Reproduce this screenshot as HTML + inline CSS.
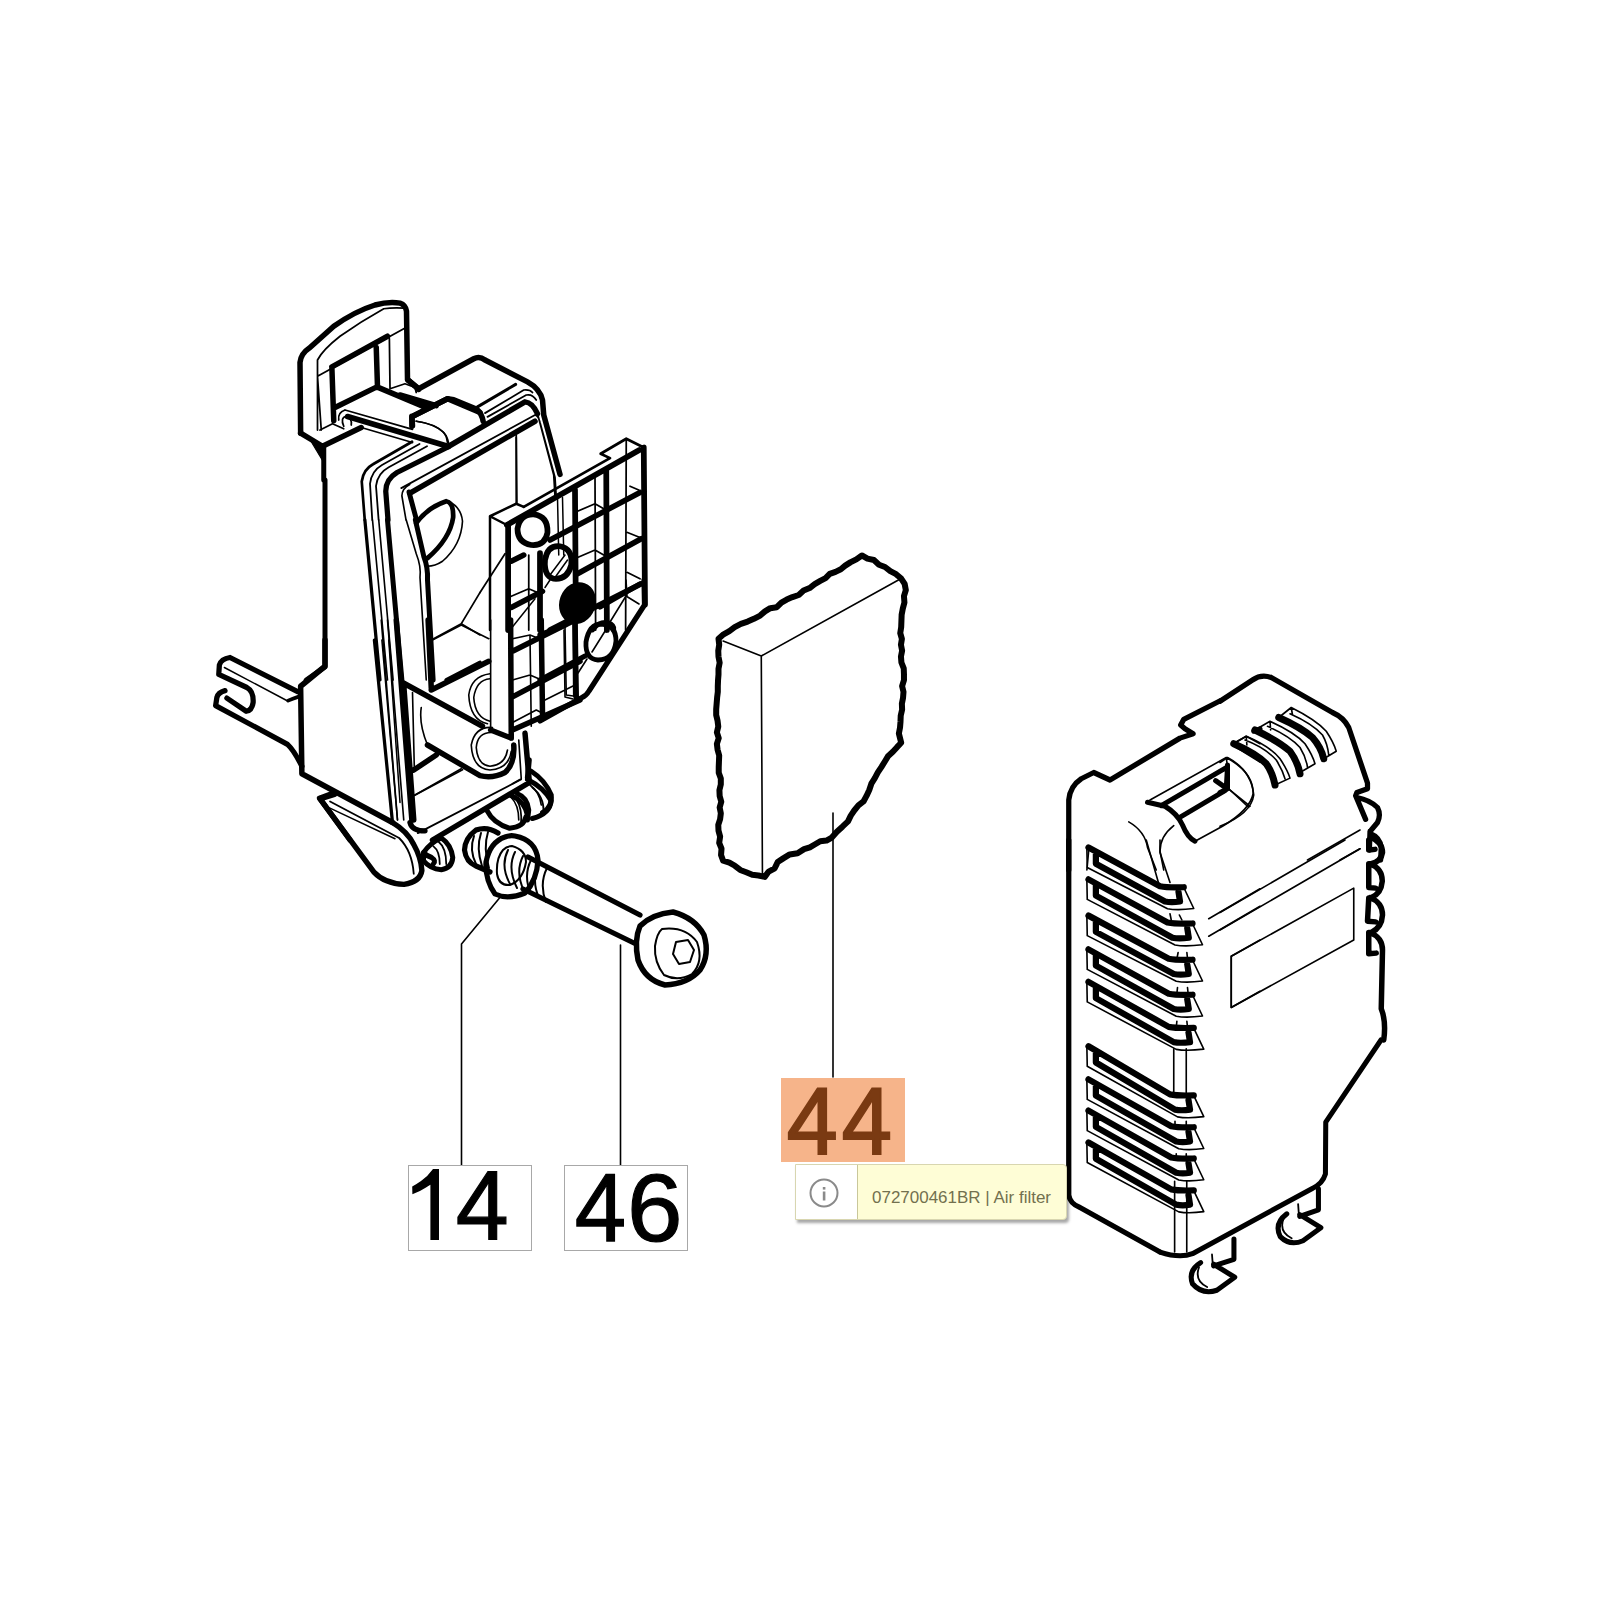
<!DOCTYPE html>
<html><head><meta charset="utf-8">
<style>
html,body{margin:0;padding:0;background:#fff;width:1600px;height:1600px;overflow:hidden}
svg{position:absolute;left:0;top:0}
.lbl{position:absolute;border:1.3px solid #a8a8a8;background:#fff;box-sizing:border-box;font-family:"Liberation Sans",sans-serif;color:#000;text-align:center}
.tip{position:absolute;left:795px;top:1164px;width:272px;height:56px;background:#fefdd6;border:1px solid #d8d6b0;box-sizing:border-box;border-radius:0 4px 4px 0;box-shadow:2px 3px 3px rgba(0,0,0,0.35);font-family:"Liberation Sans",sans-serif}
.tip .ic{position:absolute;left:0;top:0;width:61px;height:54px;background:#fff;border-right:1.5px solid #c9c79a}
.tip .tx{position:absolute;left:76px;top:20px;font-size:16px;color:#75734f;white-space:nowrap}
</style></head><body>
<svg width="1600" height="1600" viewBox="0 0 1600 1600">
<g fill="none" stroke="#000" stroke-linecap="round" stroke-linejoin="round">
<!-- leaders -->
<path d="M461.5,1165 V944 L499.5,898" stroke-width="1.6"/>
<path d="M620.5,1165 V945" stroke-width="1.6"/>
<path d="M833,1077 V813" stroke-width="1.6"/>
</g>
<g id="art" fill="none" stroke="#000" stroke-linecap="round" stroke-linejoin="round">

<!-- A [280,280] x8 -->
<g transform="translate(280 280) scale(0.125)">
<path stroke-width="44" d="M165,1225 L160,660 Q165,590 240,540 L430,370 Q600,250 760,200 Q870,170 960,185 Q1005,200 1012,250 L1020,795 L1110,875"/>
<path stroke-width="44" d="M415,695 L860,450 M415,700 L430,1125 M770,540 L780,860 M440,1020 L775,855 M775,855 L1180,1025 M1055,1090 L1060,1165 M1060,1090 L1340,950 L1600,1060 M165,1225 L340,1330 L650,1180"/>
<path fill="#000" stroke-width="10" d="M230,1260 L340,1330 L350,1460 Z"/>
<path stroke-width="40" d="M350,1330 L350,1600"/>
<path stroke-width="14" d="M300,1200 L300,640 Q340,560 480,450 Q650,330 830,230 Q900,220 990,225 M300,770 L990,390 M330,1200 L300,770 M320,1200 L420,1150 L510,1190 M875,470 L880,870 M880,870 L1000,830 L1080,860 L1090,900 M520,1040 L1060,1195 M470,1120 Q460,1060 520,1040 M510,1170 Q480,1100 530,1090 Q580,1110 570,1160 M1090,1130 Q1280,1160 1330,1250 L1340,1300"/>
<path stroke-width="14" d="M650,1180 L1060,1300"/>
</g>

<!-- C [280,480] x8 -->
<g transform="translate(280 480) scale(0.125)">
<path stroke-width="40" d="M360,0 L360,1495 L210,1600"/>
<path stroke-width="26" d="M679,320 L800,1600"/>
<path stroke-width="13" d="M740,320 L860,1600 M790,320 L905,1600 M1010,320 L1090,590 Q1130,690 1120,780 L1170,1600"/>
<path stroke-width="40" d="M860,320 L975,1600 M1083,320 L1150,610 Q1185,700 1180,800 L1225,1600"/>
<path stroke-width="38" d="M1090,345 Q1180,220 1330,170 Q1390,180 1385,300 Q1360,470 1180,625"/>
<path stroke-width="13" d="M1350,170 Q1450,220 1460,330 Q1450,520 1300,650 Q1240,690 1180,690 M1210,1280 L1450,1150 L1600,900 M1450,1150 L1600,1240"/>
<path stroke-width="30" d="M1330,1600 L1600,1460"/>
</g>

<!-- D [480,430] x8 -->
<g transform="translate(480 430) scale(0.125)">
<path stroke-width="20" d="M80,1600 L80,690 L290,590 L350,615 M80,690 L215,760"/>
<path stroke-width="22" d="M350,615 L1040,225 L965,190 L1170,70 L1310,140"/>
<path stroke-width="46" d="M215,760 L1275,160 M225,760 L225,1600 M1310,140 L1320,1395 M480,985 L480,1600 M760,480 L765,1220 M1010,325 L1015,1600"/>
<path stroke-width="14" d="M1170,70 L1165,1600 M920,370 L925,1600 M390,1000 L390,1600 M290,40 L290,590 M0,1300 L200,990 M780,650 L920,590 L990,630 M780,1020 L920,960 L990,1000 M250,1330 L390,1270 L460,1300 M1180,1140 L1280,1190 M1180,820 L1280,860 M1200,450 L1270,480"/>
<path stroke-width="44" d="M250,1050 L350,1000 M560,880 L1280,500 M250,1420 L500,1290 M780,1150 L1290,870 M560,1600 L1290,1230"/>
<path stroke-width="46" d="M430,675 Q545,690 540,820 Q520,930 410,920 Q300,900 300,790 Q320,670 430,675 Z"/>
<path stroke-width="46" d="M640,930 Q745,950 730,1080 Q700,1200 590,1190 Q510,1170 520,1040 Q540,920 640,930 Z"/>
<path stroke-width="12" d="M560,1160 L680,1000 M600,1180 L700,1040 M620,540 L630,1000 M660,540 L670,1000 M520,1260 L560,1200 M240,1600 L440,1350"/>
<ellipse cx="780" cy="1385" rx="145" ry="170" transform="rotate(20 780 1385)" fill="#000" stroke="none"/>
<path stroke-width="38" d="M900,1600 Q950,1530 1020,1540 Q1080,1560 1070,1600"/>
</g>

<!-- E [200,640] x8 -->
<g transform="translate(200 640) scale(0.125)">
<path stroke-width="44" d="M1000,0 L1000,210 L805,370 L815,1070 L1540,1460"/>
<path stroke-width="42" d="M785,415 L240,140 Q170,150 155,200 L150,275 L375,380 Q430,410 425,500 Q415,565 370,570 L215,465 M200,405 Q145,420 135,460 L125,525 L700,835 Q750,880 815,1010"/>
<path stroke-width="12" d="M195,220 L705,490"/>
<path stroke-width="30" d="M705,485 Q740,470 785,455"/>
<path stroke-width="44" d="M1075,1235 L960,1270 L1200,1600"/>
<path stroke-width="12" d="M1040,1345 L1560,1590"/>
<path stroke-width="26" d="M1395,0 L1540,1460"/>
<path stroke-width="12" d="M1455,0 L1580,1440 M1510,0 L1600,1300"/>
</g>

<!-- F [380,620] x8 -->
<g transform="translate(380 620) scale(0.125)">
<path stroke-width="44" d="M130,0 L255,1600 M385,0 L410,545 M180,500 L820,850 M190,520 L270,1600 M410,560 L870,330 M380,1000 L800,1245 Q900,1270 1000,1220 Q1080,1150 1070,1000 M1045,0 L1050,945 L885,880 M1060,250 L1600,-20 M1060,615 L1600,330 M1060,880 L1600,640 M1290,0 L1300,760 M1560,0 L1570,620 M1160,905 L1195,1300 L420,1760 M270,1200 L450,1080"/>
<path stroke-width="13" d="M10,0 L140,1600 M60,0 L190,1600 M260,580 L275,1200 M420,160 L650,40 L870,150 M330,700 Q310,830 380,1000 M885,0 L885,880 M1110,960 L1130,1270 L1060,1310 M650,1190 L280,1400 M1200,130 L1210,850 M1480,60 L1490,600 L1560,610 M1060,820 L1250,720 L1290,740 M1060,480 L1200,440 L1270,470 M1060,150 L1200,120 L1250,140"/>
<path stroke-width="13" d="M900,860 Q760,850 730,1000 Q740,1190 880,1200 Q1030,1190 1050,1050 M880,430 Q730,450 710,600 Q720,800 860,830 M880,470 Q770,480 750,620 Q760,780 880,810 M890,900 Q780,900 770,1020 Q780,1160 880,1170 Q1000,1160 1020,1040"/>
<path stroke-width="40" d="M1210,1210 Q1320,1280 1370,1400 Q1380,1500 1300,1540 M1100,1390 Q1180,1420 1190,1520 L1180,1600"/>
<path stroke-width="13" d="M1200,1320 Q1280,1380 1290,1480 M1050,1420 Q1110,1480 1110,1600"/>
</g>

<!-- P [540,580] x10 -->
<g transform="translate(540 580) scale(0.1)">
<path stroke-width="52" d="M1040,0 L1045,250 L490,1110 Q460,1160 420,1175 L0,1410 M350,450 L355,1150 M0,1000 L450,760 M600,270 L1000,40 M0,550 L250,450"/>
<path stroke-width="48" d="M615,440 Q760,450 760,610 Q740,800 580,800 Q450,790 460,620 Q490,440 615,440 Z"/>
<path stroke-width="16" d="M240,500 L250,1170 L330,1190 M30,1210 L330,1060 M700,420 L860,160 L990,240 M870,160 L860,0 M380,930 L470,790 M520,720 L670,480"/>
</g>

<!-- Q [300,760] x6.154 -->
<g transform="translate(300 760) scale(0.1625)">
<path stroke-width="33" d="M190,210 L120,235 L455,690 Q520,760 640,765 Q740,750 750,680 Q745,600 700,520 Q660,440 569,385"/>
<path stroke-width="11" d="M185,255 L610,480 Q690,560 700,700"/>
<path stroke-width="33" d="M677,385 Q690,436 769,436 M1400,110 L1410,0"/>
<path stroke-width="11" d="M700,220 L1000,60 M725,450 L1360,120"/>
<path stroke-width="31" d="M760,570 Q800,510 870,480 Q930,520 940,600 Q935,665 870,675 Q800,670 760,620 Z"/>
<path stroke-width="11" d="M820,530 Q860,560 860,640 M850,500 Q900,540 900,640"/>
<path stroke-width="31" d="M760,570 Q780,590 810,600 Q840,620 820,640"/>
<path stroke-width="31" d="M1150,310 Q1190,390 1290,420 Q1380,410 1390,350 M1400,120 Q1500,170 1545,250 Q1540,330 1430,360 M1300,220 Q1380,250 1400,340"/>
<path stroke-width="11" d="M1330,240 Q1370,300 1360,400 M1430,170 Q1500,220 1500,320"/>
</g>

<!-- R bolt global -->
<g>
<path stroke-width="5.2" d="M498,833 Q487,826 476,830 Q465,838 464.5,850 Q466,862 476,866 L490,872"/>
<path stroke-width="2" d="M474,836 Q469,850 476,864 M481,833 Q476,848 482,866 M488,832 Q483,848 489,868"/>
<path stroke-width="5.2" d="M515,836 Q536,840 538,860 Q537,880 525,893 Q508,900 495,894 Q485,880 486,862 Q490,842 505,837 Q510,835 515,836 Z"/>
<path stroke-width="2" d="M512,846 Q526,850 526,862 Q523,880 510,885 Q499,886 497,874 Q496,858 503,850 Q507,846 512,846 Z"/>
<path stroke-width="5.2" d="M528,857 L640,915 M523,889 L636,944"/>
<path stroke-width="2" d="M508,850 Q500,866 510,884 M515,852 Q507,868 517,888 M523,856 Q515,872 524,891 M531,860 Q523,876 531,894 M539,864 Q531,880 539,898 M547,868 Q539,884 546,902"/>
<path stroke-width="5.5" d="M640,926 Q652,914 673,912 Q695,918 704,935 Q710,955 700,970 Q688,984 665,985 Q645,980 638,960 Q634,940 640,926 Z"/>
<path stroke-width="2" d="M662,929 Q685,926 697,942 Q704,962 692,974 Q678,982 664,975 Q654,962 655,946 Q657,933 662,929 Z"/>
<path stroke-width="2" d="M676,942 L688,940 L694,950 L690,962 L679,964 L673,954 Z"/>
</g>


<!-- global lines -->
<path stroke-width="5.5" d="M347.5,416.5 L448.5,446.5"/>
<!-- K corner [340,420] x13.33 -->
<g transform="translate(340 420) scale(0.075)">
<path stroke-width="36" d="M960,290 L440,590 Q310,660 290,820 L330,1333"/>
<path stroke-width="24" d="M1060,320 L560,600 Q420,680 400,850 L430,1333 M1160,350 L650,630 Q500,710 480,880 L515,1333"/>
<path stroke-width="70" d="M1440,360 L760,700 Q610,790 610,950 L640,1333"/>
<path stroke-width="22" d="M880,1333 L825,1010 Q830,910 930,860"/>
<path stroke-width="66" d="M920,960 L1020,1333"/>
</g>

<!-- S sponge [700,530] x4.324 -->
<g transform="translate(700 530) scale(0.23125)">
<path stroke-width="26" d="M80,470 L102,451 L127,437 L150,420 L177,406 L206,396 L233,384 L260,370 L281,352 L304,338 L332,334 L352,314 L375,301 L400,290 L427,281 L448,262 L474,251 L496,234 L520,220 L543,208 L561,190 L586,181 L609,170 L628,154 L650,140 L676,127 L700,110 L724,124 L752,130 L774,150 L800,160 L823,178 L848,191 L870,210 L885,233 L890,260 L882,286 L884,313 L877,340 L872,366 L871,393 L870,420 L866,446 L873,471 L869,496 L874,522 L869,547 L871,573 L881,598 L882,623 L882,649 L874,675 L880,700 L878,726 L873,751 L874,777 L868,803 L867,829 L865,854 L860,880 L870,920 L852,939 L834,959 L814,977 L800,1000 L785,1024 L769,1048 L756,1073 L741,1097 L732,1124 L720,1150 L707,1174 L685,1191 L667,1213 L652,1235 L640,1260 L616,1283 L592,1305 L570,1330 L547,1343 L520,1346 L498,1359 L475,1372 L450,1380 L422,1398 L388,1403 L360,1420 L336,1436 L323,1463 L297,1477 L280,1500 L253,1494 L226,1491 L200,1480 L174,1470 L151,1452 L127,1438 L100,1430 L91,1405 L93,1378 L83,1353 L87,1326 L80,1300 L79,1275 L87,1250 L90,1225 L85,1200 L92,1175 L85,1150 L84,1125 L90,1100 L90,1075 L81,1050 L81,1025 L82,1000 L83,975 L76,950 L73,925 L81,900 L73,875 L79,850 L76,825 L70,800 L70,775 L72,750 L74,725 L77,700 L77,675 L78,650 L80,625 L80,600 L85,574 L80,548 L79,522 L83,496 Z"/>
<path stroke-width="7" d="M100,480 L265,545 L860,215 M265,545 L270,1490"/>
</g>

<!-- CV1 [1060,670] x8 -->
<g transform="translate(1060 670) scale(0.125)">
<path stroke-width="42" d="M70,1600 L70,1040 Q80,930 170,870 L270,820 L400,880 L960,545 L1065,510 L1000,470 L965,440 L990,395 L1282,246"/>
<path stroke-width="40" d="M700,1058 L840,1090 Q940,1150 980,1240 Q1020,1340 1080,1370 M810,1085 L1340,775 L1330,945 L1245,885 M965,1175 L1320,965"/>
<path stroke-width="13" d="M720,1040 L1330,700 L1340,775 M1330,700 Q1550,820 1545,990 Q1520,1120 1300,1250 L1080,1370 M1340,945 L1520,1090 M550,1215 Q680,1290 700,1420 L770,1600 M910,1245 Q800,1330 800,1450 L830,1600"/>
<path stroke-width="40" d="M1390,590 L1600,720 M1550,490 L1600,470"/>
<path stroke-width="13" d="M230,1440 L215,1600 M1400,580 L1490,530 L1600,590"/>
</g>

<!-- CV2 [1220,660] x8 -->
<g transform="translate(1220 660) scale(0.125)">
<path stroke-width="42" d="M0,330 L260,160 Q330,110 410,140 L900,420 Q990,460 1030,540 L1180,985 L1180,1030 L1095,1060 L1085,1085 L1165,1275 M1095,1100 Q1200,1120 1260,1180 Q1290,1240 1260,1300 L1210,1360 M1200,1370 L1195,1520 M1205,1390 Q1280,1420 1290,1500 L1285,1600"/>
<path stroke-width="56" d="M110,670 Q290,750 370,830 Q420,900 440,1000 M280,560 Q470,650 560,730 Q620,810 640,910 M470,460 Q650,540 740,620 Q810,700 830,790"/>
<path stroke-width="13" d="M110,670 L210,610 Q400,690 480,790 Q540,880 560,945 L440,1000 M200,640 Q360,700 450,800 Q500,880 520,950 M210,610 L215,680 M280,560 L400,490 Q600,580 680,670 Q740,760 760,830 L640,900 M380,530 Q560,610 640,700 Q690,780 700,860 M400,490 L405,560 M470,460 L570,380 Q770,480 850,570 Q910,660 930,730 L830,790 M560,430 Q740,510 820,600 Q860,670 870,760 M570,380 L580,440"/>
<path stroke-width="13" d="M0,820 L60,780 Q250,880 270,1080 Q250,1230 0,1330 M70,1030 L230,1180 M700,1600 L1120,1360 M960,1600 L1120,1510"/>
<path stroke-width="40" d="M0,1060 L60,1030 L60,840"/>
</g>

<!-- CV3 [1060,840] x8 -->
<g transform="translate(1060 840) scale(0.125)">
<path stroke-width="42" d="M70,0 L70,2840 Q80,2910 160,2940 L800,3296"/>
<path stroke-width="13" d="M910,1670 L910,2040 M1010,1670 L1010,2040 M920,2250 L920,2290 M1010,2250 L1010,2290 M917,2730 L917,3296 M1014,2730 L1014,3296 M930,2510 L930,2550 M1010,2510 L1010,2550"/>
<path stroke-width="50" d="M228,60 L800,370 Q860,382 990,378 M287,100 L287,190 L840,492 Q890,502 960,492 L948,415 M228,315 L860,660 Q920,672 1060,668 M287,355 L287,445 L900,782 Q950,792 1030,782 L1018,705 M228,605 L870,950 Q930,962 1060,958 M287,645 L287,735 L910,1072 Q960,1082 1030,1072 L1018,995 M228,875 L870,1230 Q930,1242 1060,1238 M287,915 L287,1005 L910,1352 Q960,1362 1030,1352 L1018,1275 M228,1135 L870,1495 Q930,1507 1070,1503 M287,1175 L287,1265 L910,1617 Q960,1627 1040,1617 L1028,1540 M228,1650 L880,2035 Q940,2047 1070,2043 M287,1690 L287,1780 L920,2157 Q970,2167 1040,2157 L1028,2080 M228,1915 L890,2290 Q950,2302 1070,2298 M287,1955 L287,2045 L930,2412 Q980,2422 1040,2412 L1028,2335 M228,2165 L890,2540 Q950,2552 1070,2548 M287,2205 L287,2295 L930,2662 Q980,2672 1040,2662 L1028,2585 M228,2420 L890,2795 Q950,2807 1070,2803 M287,2460 L287,2550 L930,2917 Q980,2927 1040,2917 L1028,2840"/>
<path stroke-width="13" d="M215,70 L218,220 L860,550 Q940,565 1070,548 L990,380 M215,325 L218,475 L920,840 Q1000,855 1140,838 L1060,670 M215,615 L218,765 L930,1130 Q1010,1145 1140,1128 L1060,960 M215,885 L218,1035 L930,1410 Q1010,1425 1140,1408 L1060,1240 M215,1145 L218,1295 L930,1675 Q1010,1690 1150,1673 L1070,1505 M215,1660 L218,1810 L940,2215 Q1020,2230 1150,2213 L1070,2045 M215,1925 L218,2075 L950,2470 Q1030,2485 1150,2468 L1070,2300 M215,2175 L218,2325 L950,2720 Q1030,2735 1150,2718 L1070,2550 M215,2430 L218,2580 L950,2975 Q1030,2990 1150,2973 L1070,2805"/>
<path stroke-width="13" d="M690,0 L790,350 M800,0 L800,100 L880,340 M1190,630 L1600,390 M1190,770 L1600,530 M1600,800 L1370,930 L1370,1340 L1600,1210 M880,590 L890,640 M955,600 L975,640 M945,900 L935,950 M1015,900 L1020,950 M940,1180 L935,1230 M1020,1180 L1025,1230 M935,1450 L930,1500 M1015,1450 L1020,1500"/>
</g>

<!-- CV4 [1220,840] x8 -->
<g transform="translate(1220 840) scale(0.125)">
<path stroke-width="13" d="M0,580 L1000,0 M0,720 L1120,70 M90,930 L1070,385 L1070,800 L90,1340 Z"/>
<path stroke-width="44" d="M1190,0 L1190,80 L1240,75 M1210,-20 Q1300,20 1300,100 Q1290,170 1210,190 M1190,190 L1190,380 L1245,385 M1200,190 Q1300,230 1298,330 Q1290,430 1210,460 M1190,465 L1180,650 L1245,655 M1200,460 Q1300,500 1300,600 Q1295,700 1210,740 M1190,740 L1190,910 L1250,905 M1200,740 Q1300,780 1300,880 L1290,1350 Q1330,1450 1310,1600"/>
</g>

<!-- CV6 [1160,1040] x6.154 -->
<g transform="translate(1160 1040) scale(0.1625)">
<path stroke-width="31" d="M1360,0 L1020,505 L1018,825 Q1000,885 940,912 L200,1315 Q120,1345 0,1305"/>
<path stroke-width="31" d="M975,915 L975,1045 L860,1085 M860,1075 L990,1155 L880,1235 Q800,1270 740,1210 Q700,1130 780,1070 M455,1225 L455,1350 L330,1390 M330,1380 L460,1460 L350,1540 Q260,1570 200,1500 Q170,1420 250,1370"/>
<path stroke-width="11" d="M850,1010 L855,1080 M320,1320 L325,1385 M760,1100 Q730,1180 810,1220 M240,1400 Q210,1480 290,1520"/>
</g>
<!-- B [400,340] x8 -->
<g transform="translate(400 340) scale(0.125)">
<path stroke-width="44" d="M62,320 L150,390 L590,150 Q635,125 680,160 L1020,335 Q1120,390 1140,480 L1150,600 L1280,1075"/>
<path stroke-width="44" d="M0,440 L290,525 M95,690 L95,615 L380,470 L430,478 L615,555 Q655,590 665,650 M390,850 L1000,495 Q1060,500 1100,590"/>
<path stroke-width="44" d="M80,1225 L1080,650"/>
<path stroke-width="24" d="M620,535 L925,355"/>
<path stroke-width="14" d="M130,650 Q280,670 350,740 Q390,790 390,850 M680,585 L990,400 Q1040,395 1060,420 M700,615 L1010,440 Q1060,430 1090,480 M10,1185 L1080,600 Q1110,610 1120,660 L1240,1100 L1250,1260 M1100,590 L1230,1080 L1240,1250 M930,780 L935,1300"/>
</g>

</g>
</svg>
<div class="lbl" style="left:408px;top:1165px;width:124px;height:86px"></div>
<div class="lbl" style="left:564px;top:1165px;width:124px;height:86px"></div>
<div style="position:absolute;left:781px;top:1078px;width:124px;height:84px;background:#f6b48a"></div>
<svg width="1600" height="1600" viewBox="0 0 1600 1600" style="pointer-events:none">
<path fill="#000" stroke="none" d="M430.4,1184.7 L430.4,1240 L439,1240 L439,1168.9 L433,1168.9 Q428,1176 421,1181 Q416,1184.5 412.2,1186.5 L412.4,1194.3 Q420,1191.5 426,1187.5 Q428.5,1186 430.4,1184.7 Z"/>
<text transform="translate(455.66 1239.40) scale(0.9514 0.9913)" font-family="Liberation Sans" font-size="100" fill="#000" stroke="#000" stroke-width="1.26">4</text>
<text transform="translate(574.73 1240.70) scale(0.9236 0.9695)" font-family="Liberation Sans" font-size="100" fill="#000" stroke="#000" stroke-width="1.30">4</text>
<text transform="translate(786.70 1154.25) scale(0.9147 0.9368)" font-family="Liberation Sans" font-size="100" fill="#7a3a12" stroke="#7a3a12" stroke-width="2.19">4</text>
<text transform="translate(841.63 1154.25) scale(0.9008 0.9368)" font-family="Liberation Sans" font-size="100" fill="#7a3a12" stroke="#7a3a12" stroke-width="2.22">4</text>
<text transform="translate(627.11 1241.24) scale(0.9978 0.9633)" font-family="Liberation Sans" font-size="100" fill="#000" stroke="#000" stroke-width="1.20">6</text>
</svg>
<div class="tip"><div class="ic"><svg width="61" height="54" style="position:absolute;left:0;top:0"><circle cx="28" cy="28" r="13.5" fill="none" stroke="#8a8a8a" stroke-width="2"/><rect x="26.8" y="22" width="2.6" height="2.6" fill="#8a8a8a"/><rect x="26.8" y="26.5" width="2.6" height="9" fill="#8a8a8a"/></svg></div><svg width="272" height="56" style="position:absolute;left:-1px;top:-1px"><text x="77" y="38.5" font-family="Liberation Sans" font-size="17" textLength="179" lengthAdjust="spacingAndGlyphs" fill="#72704e">072700461BR | Air filter</text></svg></div>
</body></html>
